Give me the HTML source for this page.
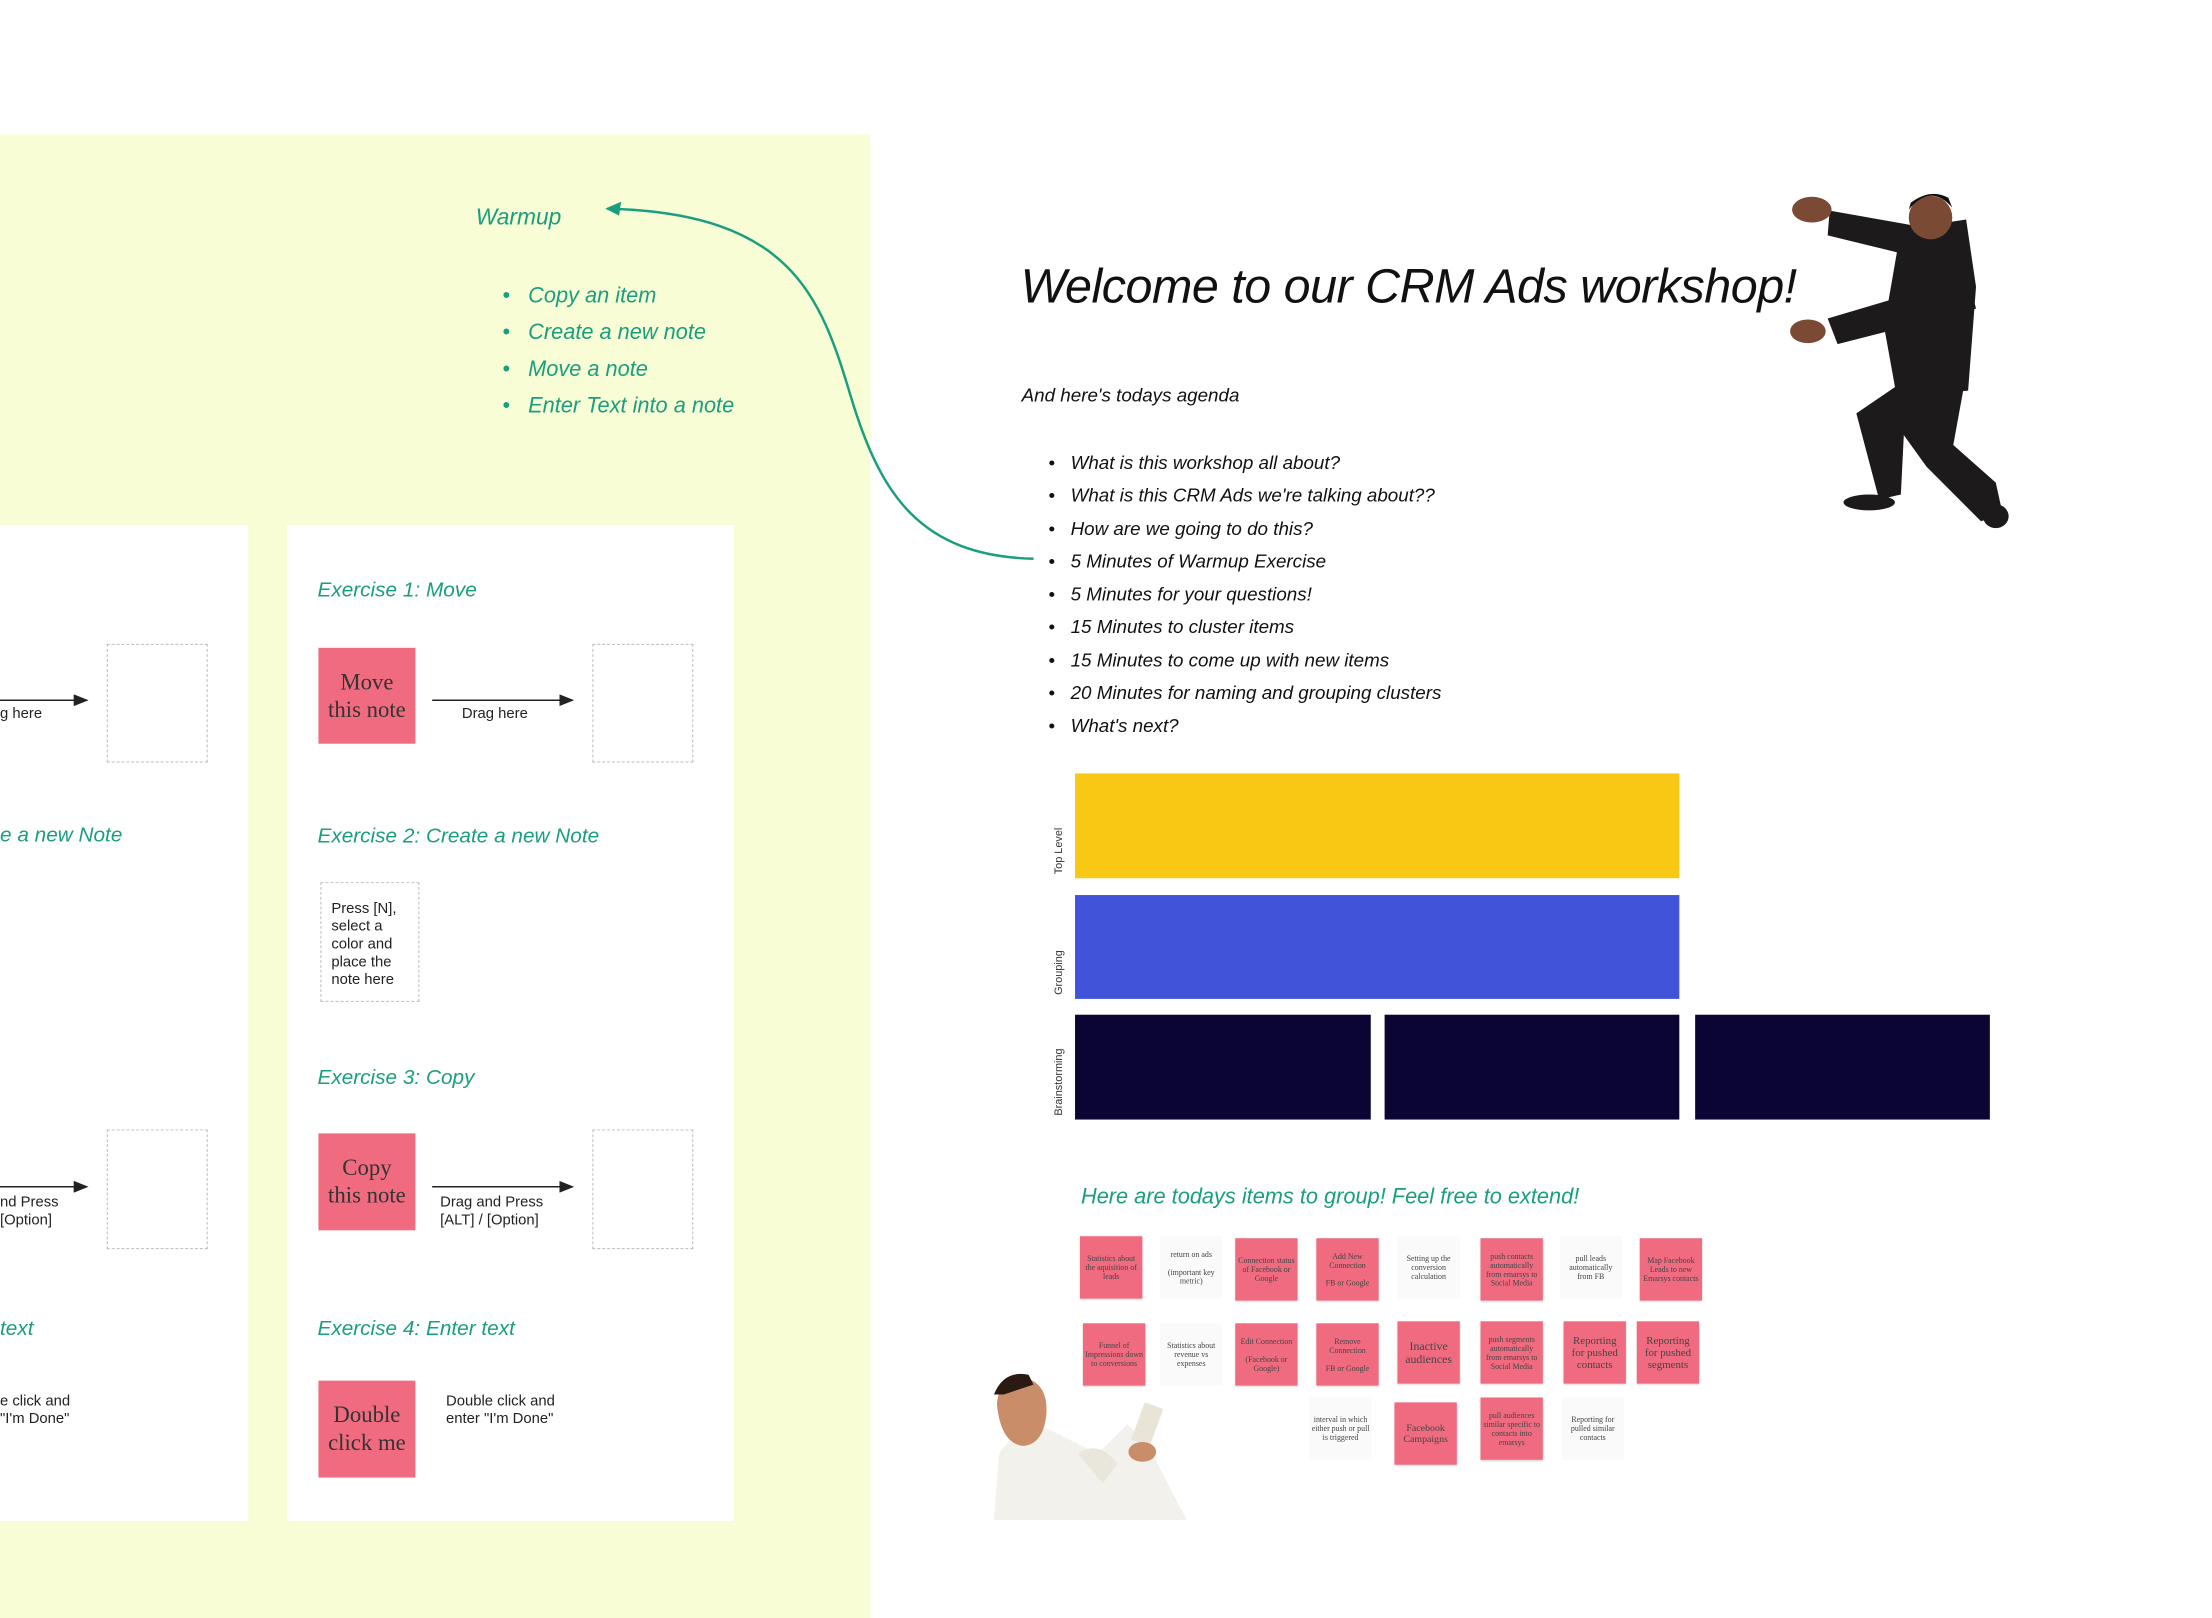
<!DOCTYPE html>
<html><head><meta charset="utf-8"><style>
*{margin:0;padding:0;box-sizing:border-box}
body{width:2212px;height:1594px;background:#fff;position:relative;overflow:hidden;font-family:"Liberation Sans",sans-serif}
#wr{position:absolute;left:0;top:0;width:2240px;height:1620px;transform:scale(0.989);transform-origin:0 0}
.a{position:absolute;white-space:nowrap}
.t{color:#1a9e80;font-style:italic}
.k{color:#111;font-style:italic}
.note{position:absolute;background:#f06b80;color:#333;font-family:"Liberation Serif",serif;font-size:23px;line-height:28px;text-align:center;display:flex;align-items:center;justify-content:center}
.dash{position:absolute;border:1.5px dashed #bbb}
.sm{position:absolute;font-size:15px;line-height:18px;color:#222}
.st{position:absolute;width:63px;height:63px;font-family:"Liberation Serif",serif;font-size:8px;line-height:9px;color:#444;text-align:center;display:flex;align-items:center;justify-content:center;overflow:hidden;padding:2px}
.p{background:#f06b80;box-shadow:0 1px 2px rgba(0,0,0,.2)}
.w{background:#fafafa}
.bar{position:absolute}
.vl{position:absolute;font-size:11px;color:#333;transform:rotate(-90deg);transform-origin:left top;white-space:nowrap}
</style></head><body><div id="wr">
<div style="position:absolute;left:0;top:136px;width:880px;height:1500px;background:#f8fdd5"></div>
<div style="position:absolute;left:0;top:531px;width:251px;height:1007px;background:#fff"></div>
<div style="position:absolute;left:290px;top:531px;width:452px;height:1007px;background:#fff"></div>

<div class="a t" style="left:481px;top:206px;font-size:23px">Warmup</div>
<div class="a t" style="left:508px;top:280px;font-size:22px;line-height:37px">•&nbsp;&nbsp;&nbsp;Copy an item<br>•&nbsp;&nbsp;&nbsp;Create a new note<br>•&nbsp;&nbsp;&nbsp;Move a note<br>•&nbsp;&nbsp;&nbsp;Enter Text into a note</div>

<div class="dash" style="left:108px;top:651px;width:102px;height:120px"></div>
<div class="dash" style="left:108px;top:1142px;width:102px;height:121px"></div>
<svg class="a" style="left:0;top:0" width="2240" height="1620">
<defs><marker id="ar" markerWidth="10" markerHeight="8" refX="9" refY="4" orient="auto"><path d="M0,0 L10,4 L0,8z" fill="#222"/></marker>
<marker id="tg" markerWidth="10" markerHeight="8" refX="8" refY="4" orient="auto" markerUnits="userSpaceOnUse"><path d="M0,0 L10,4 L0,8z" fill="#1a9e80"/></marker></defs>
<line x1="0" y1="708" x2="88" y2="708" stroke="#222" stroke-width="1.5" marker-end="url(#ar)"/>
<line x1="0" y1="1200" x2="88" y2="1200" stroke="#222" stroke-width="1.5" marker-end="url(#ar)"/>
<line x1="437" y1="708" x2="579" y2="708" stroke="#222" stroke-width="1.5" marker-end="url(#ar)"/>
<line x1="437" y1="1200" x2="579" y2="1200" stroke="#222" stroke-width="1.5" marker-end="url(#ar)"/>
<path d="M1045,565 C930,562 890,500 860,400 C830,300 800,215 614,211" fill="none" stroke="#1a9e80" stroke-width="2.5"/>
<path d="M612,211 L628,204 L626,218z" fill="#1a9e80"/>
</svg>
<div class="sm" style="left:0;top:713px">g here</div>
<div class="a t" style="left:0;top:833px;font-size:21px">e a new Note</div>
<div class="sm" style="left:0;top:1207px">nd Press<br>[Option]</div>
<div class="a t" style="left:0;top:1332px;font-size:21px">text</div>
<div class="sm" style="left:0;top:1408px">e click and<br>"I'm Done"</div>

<div class="a t" style="left:321px;top:585px;font-size:21px">Exercise 1: Move</div>
<div class="note" style="left:322px;top:655px;width:98px;height:97px">Move<br>this note</div>
<div class="sm" style="left:467px;top:713px">Drag here</div>
<div class="dash" style="left:599px;top:651px;width:102px;height:120px"></div>

<div class="a t" style="left:321px;top:834px;font-size:21px">Exercise 2: Create a new Note</div>
<div class="dash" style="left:324px;top:892px;width:100px;height:121px"></div>
<div class="sm" style="left:335px;top:910px">Press [N],<br>select a<br>color and<br>place the<br>note here</div>

<div class="a t" style="left:321px;top:1078px;font-size:21px">Exercise 3: Copy</div>
<div class="note" style="left:322px;top:1146px;width:98px;height:98px">Copy<br>this note</div>
<div class="sm" style="left:445px;top:1207px">Drag and Press<br>[ALT] / [Option]</div>
<div class="dash" style="left:599px;top:1142px;width:102px;height:121px"></div>

<div class="a t" style="left:321px;top:1332px;font-size:21px">Exercise 4: Enter text</div>
<div class="note" style="left:322px;top:1396px;width:98px;height:98px">Double<br>click me</div>
<div class="sm" style="left:451px;top:1408px">Double click and<br>enter "I'm Done"</div>

<div class="a k" style="left:1032px;top:262px;font-size:49px;letter-spacing:-0.5px">Welcome to our CRM Ads workshop!</div>
<div class="a k" style="left:1033px;top:390px;font-size:19px">And here's todays agenda</div>
<div class="a k" style="left:1060px;top:452px;font-size:19px;line-height:33.3px">•&nbsp;&nbsp;&nbsp;What is this workshop all about?<br>•&nbsp;&nbsp;&nbsp;What is this CRM Ads we're talking about??<br>•&nbsp;&nbsp;&nbsp;How are we going to do this?<br>•&nbsp;&nbsp;&nbsp;5 Minutes of Warmup Exercise<br>•&nbsp;&nbsp;&nbsp;5 Minutes for your questions!<br>•&nbsp;&nbsp;&nbsp;15 Minutes to cluster items<br>•&nbsp;&nbsp;&nbsp;15 Minutes to come up with new items<br>•&nbsp;&nbsp;&nbsp;20 Minutes for naming and grouping clusters<br>•&nbsp;&nbsp;&nbsp;What's next?</div>

<div class="bar" style="left:1087px;top:782px;width:611px;height:106px;background:#f8c815"></div>
<div class="bar" style="left:1087px;top:905px;width:611px;height:105px;background:#4154d9"></div>
<div class="bar" style="left:1087px;top:1026px;width:299px;height:106px;background:#0b0533"></div>
<div class="bar" style="left:1400px;top:1026px;width:298px;height:106px;background:#0b0533"></div>
<div class="bar" style="left:1714px;top:1026px;width:298px;height:106px;background:#0b0533"></div>
<div class="vl" style="left:1065px;top:884px">Top Level</div>
<div class="vl" style="left:1065px;top:1006px">Grouping</div>
<div class="vl" style="left:1065px;top:1128px">Brainstorming</div>

<div class="a t" style="left:1093px;top:1197px;font-size:22px">Here are todays items to group! Feel free to extend!</div>

<div class="st p" style="left:1092px;top:1250px">Statistics about the aquisition of leads</div>
<div class="st w" style="left:1173px;top:1250px">return on ads<br><br>(important key metric)</div>
<div class="st p" style="left:1249px;top:1252px">Connection status of Facebook or Google</div>
<div class="st p" style="left:1331px;top:1252px">Add New Connection<br><br>FB or Google</div>
<div class="st w" style="left:1413px;top:1250px">Setting up the conversion calculation</div>
<div class="st p" style="left:1497px;top:1252px">push contacts automatically from emarsys to Social Media</div>
<div class="st w" style="left:1577px;top:1250px">pull leads automatically from FB</div>
<div class="st p" style="left:1658px;top:1252px">Map Facebook Leads to new Emarsys contacts</div>

<div class="st p" style="left:1095px;top:1338px">Funnel of Impressions down to conversions</div>
<div class="st w" style="left:1173px;top:1338px">Statistics about revenue vs expenses</div>
<div class="st p" style="left:1249px;top:1338px">Edit Connection<br><br>(Facebook or Google)</div>
<div class="st p" style="left:1331px;top:1338px">Remove Connection<br><br>FB or Google</div>
<div class="st p" style="left:1413px;top:1336px;font-size:12px;line-height:13px">Inactive audiences</div>
<div class="st p" style="left:1497px;top:1336px">push segments automatically from emarsys to Social Media</div>
<div class="st p" style="left:1581px;top:1336px;font-size:11px;line-height:12px">Reporting for pushed contacts</div>
<div class="st p" style="left:1655px;top:1336px;font-size:11px;line-height:12px">Reporting for pushed segments</div>

<div class="st w" style="left:1324px;top:1413px">interval in which either push or pull is triggered</div>
<div class="st p" style="left:1410px;top:1418px;font-size:10px;line-height:11px">Facebook Campaigns</div>
<div class="st p" style="left:1497px;top:1413px">pull audiences similar specific to contacts into emarsys</div>
<div class="st w" style="left:1579px;top:1413px">Reporting for pulled similar contacts</div>

<svg class="a" style="left:0;top:0" width="2240" height="1620">
<g fill="#1c1a1a">
<polygon points="1850,213 1935,228 1930,258 1848,238"/>
<polygon points="1922,232 1988,222 1998,290 1990,395 1918,402 1905,330"/>
<polygon points="1848,322 1990,280 1998,312 1858,348"/>
<polygon points="1918,390 1962,398 1925,440 1922,500 1900,505 1877,418"/>
<polygon points="1945,395 1985,395 1975,450 2018,488 2025,520 2003,527 1948,472 1925,440"/>
<ellipse cx="1890" cy="508" rx="26" ry="8"/>
<ellipse cx="2018" cy="522" rx="13" ry="12"/>
</g>
<g fill="#7a4a35">
<ellipse cx="1832" cy="212" rx="20" ry="13"/>
<ellipse cx="1828" cy="335" rx="18" ry="12"/>
<circle cx="1952" cy="220" r="22"/>
</g>
<path d="M1930,212 Q1952,185 1974,210 L1970,200 Q1952,190 1932,205z" fill="#111"/>
<path d="M1005,1537 L1010,1470 Q1030,1440 1060,1445 L1110,1470 L1140,1440 L1160,1460 L1200,1537z" fill="#f3f1ec"/>
<path d="M1008,1420 Q1010,1392 1035,1393 Q1060,1398 1058,1430 Q1055,1460 1035,1462 Q1012,1460 1008,1420z" fill="#c98d6a"/>
<path d="M1005,1410 Q1015,1385 1040,1390 L1045,1400 L1015,1410z" fill="#2a1a12"/>
<rect x="1150" y="1420" width="20" height="40" fill="#e8e4d8" transform="rotate(20 1160 1440)"/>
<ellipse cx="1155" cy="1468" rx="14" ry="10" fill="#c98d6a"/>
<path d="M1090,1470 Q1110,1455 1130,1480 L1115,1500z" fill="#e9e6dc"/>
</svg>
</div></body></html>
